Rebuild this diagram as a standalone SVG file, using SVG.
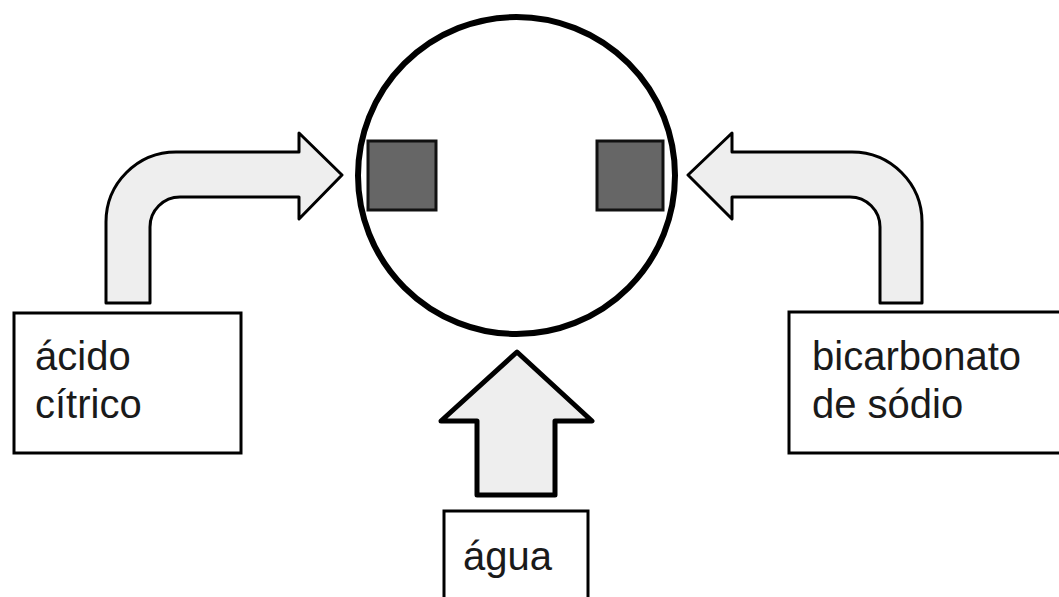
<svg xmlns="http://www.w3.org/2000/svg" width="1059" height="597" viewBox="0 0 1059 597">
  <style>
    .box { fill: #ffffff; stroke: #000000; stroke-width: 3; }
    .label { font-family: "Liberation Sans", Arial, sans-serif; font-size: 40px; fill: #1a1a1a; }
    .flow { fill: #eeeeee; stroke: #000000; stroke-width: 3; stroke-linejoin: round; }
    .flow-bold { fill: #eeeeee; stroke: #000000; stroke-width: 5; stroke-linejoin: round; }
    .block { fill: #666666; stroke: #111111; stroke-width: 3; }
  </style>
  <rect width="1059" height="597" fill="#ffffff"/>

  <!-- flow arrows -->
  <g id="connectors">
    <path class="flow" d="M106,303 V222 A70,70 0 0 1 176,152 H299 V133 L342,175 L299,219 V197 H180 A30,30 0 0 0 150,227 V303 Z"/>
    <path class="flow" d="M922,303 V222 A70,70 0 0 0 852,152 H732 V133 L688,175 L732,219 V197 H850 A30,30 0 0 1 880,227 V303 Z"/>
    <path class="flow-bold" d="M517,352 L592,421 H555 V495 H477 V421 H441 Z"/>
  </g>

  <!-- reaction vessel -->
  <g id="vessel">
    <circle cx="516.5" cy="175.5" r="158.5" fill="#ffffff" stroke="#000000" stroke-width="6"/>
    <rect class="block" x="368" y="141" width="68" height="69"/>
    <rect class="block" x="597" y="141" width="66" height="69"/>
  </g>

  <g id="acido-citrico">
    <rect class="box" x="14" y="313" width="227" height="140"/>
    <text class="label" x="35" y="370">ácido</text>
    <text class="label" x="35" y="418">cítrico</text>
  </g>

  <g id="bicarbonato">
    <rect class="box" x="789" y="312" width="280" height="141"/>
    <text class="label" x="812" y="370">bicarbonato</text>
    <text class="label" x="812" y="418">de sódio</text>
  </g>

  <g id="agua">
    <rect class="box" x="444" y="511" width="144" height="100"/>
    <text class="label" x="463" y="570">água</text>
  </g>
</svg>
